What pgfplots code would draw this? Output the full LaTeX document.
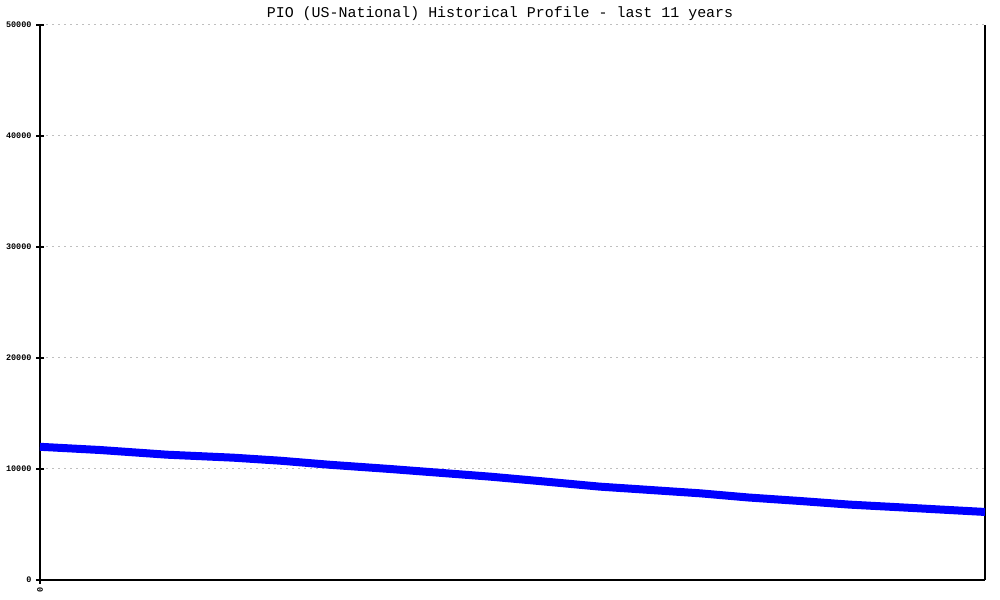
\documentclass[border=0pt]{standalone}
\usepackage{fontspec}
\setmainfont{Liberation Mono}
\usepackage{pgfplots}
\pgfplotsset{compat=1.18}
\begin{document}
\begin{tikzpicture}[x=1bp,y=1bp]
\useasboundingbox (0,0) rectangle (1000,600);
\begin{axis}[
  at={(40bp,20bp)}, anchor=south west,
  scale only axis, width=945bp, height=555bp,
  xmin=0, xmax=132, ymin=0, ymax=50000,
  axis x line*=bottom, axis y line*=box,
  axis line style={black, line width=1.2bp},
  ytick={0,10000,20000,30000,40000,50000},
  xtick={0},
  ytick pos=left,
  tick align=center,
  major tick length=8bp,
  tick style={black, line width=1.2bp},
  scaled y ticks=false,
  /pgf/number format/assume math mode=true,
  /pgf/number format/set thousands separator={},
  yticklabel style={font=\bfseries\fontsize{8.5}{10}\selectfont, xshift=-1bp},
  xticklabel style={font=\bfseries\fontsize{8.5}{10}\selectfont, rotate=90, anchor=east},
  ymajorgrids,
  grid style={color=black!25, dash pattern=on 2bp off 4bp, line width=1bp},
  title={PIO (US-National) Historical Profile - last 11 years},
  title style={font=\fontsize{15}{18}\selectfont, at={(0.4868,1)}, anchor=south, yshift=-5bp},
  clip=false,
]
\addplot[blue, line width=8bp, line join=round] coordinates {
(0,12000) (8.4,11710) (17.7,11290) (27,11020) (33.5,10750) (40.5,10380)
(48.9,10000) (56,9650) (62.9,9310) (70,8900) (78.2,8410) (85,8120) (92.2,7810)
(99,7430) (106.1,7120) (113.1,6790) (120.1,6550) (126,6340) (132,6130)
};
\end{axis}
\end{tikzpicture}
\end{document}
